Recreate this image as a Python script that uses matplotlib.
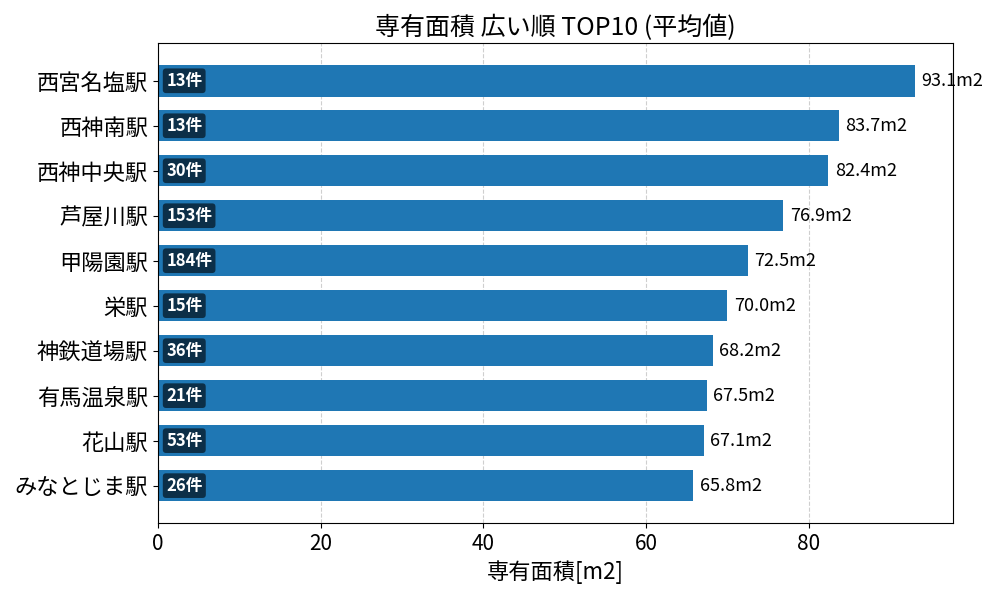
import matplotlib
matplotlib.use("Agg")
import matplotlib.pyplot as plt

plt.rcParams['font.family'] = ['Noto Sans CJK JP', 'DejaVu Sans']

# data
stations = ["西宮名塩駅", "西神南駅", "西神中央駅", "芦屋川駅", "甲陽園駅",
            "栄駅", "神鉄道場駅", "有馬温泉駅", "花山駅", "みなとじま駅"]
areas = [93.1, 83.7, 82.4, 76.9, 72.5, 70.0, 68.2, 67.5, 67.1, 65.8]
counts = [13, 13, 30, 153, 184, 15, 36, 21, 53, 26]

fig, ax = plt.subplots(figsize=(10, 6), dpi=100)

ypos = range(len(stations))
bars = ax.barh(ypos, areas, height=0.7, color="#1f77b4")
ax.set_yticks(list(ypos))
ax.set_yticklabels(stations, fontsize=16)
ax.invert_yaxis()

ax.set_xlim(0, max(areas) * 1.05)
ax.tick_params(axis='x', labelsize=15)
ax.grid(axis='x', linestyle='--', alpha=0.6)
ax.set_axisbelow(True)

# value labels on the right of each bar
for y, v in zip(ypos, areas):
    ax.text(v + 0.8, y, "{:.1f}m2".format(v), va='center', ha='left', fontsize=13)

# count labels inside the bars
for y, c in zip(ypos, counts):
    ax.text(1.0, y, "{}件".format(c), va='center', ha='left', fontsize=12,
            color='white', fontweight='bold',
            bbox=dict(boxstyle='round,pad=0.2', facecolor='black', alpha=0.6,
                      edgecolor='none'))

ax.set_title("専有面積 広い順 TOP10 (平均値)", fontsize=18)
ax.set_xlabel("専有面積[m2]", fontsize=16)

fig.subplots_adjust(left=0.158, right=0.953, top=0.928, bottom=0.128)
fig.savefig("out.png", dpi=100)
